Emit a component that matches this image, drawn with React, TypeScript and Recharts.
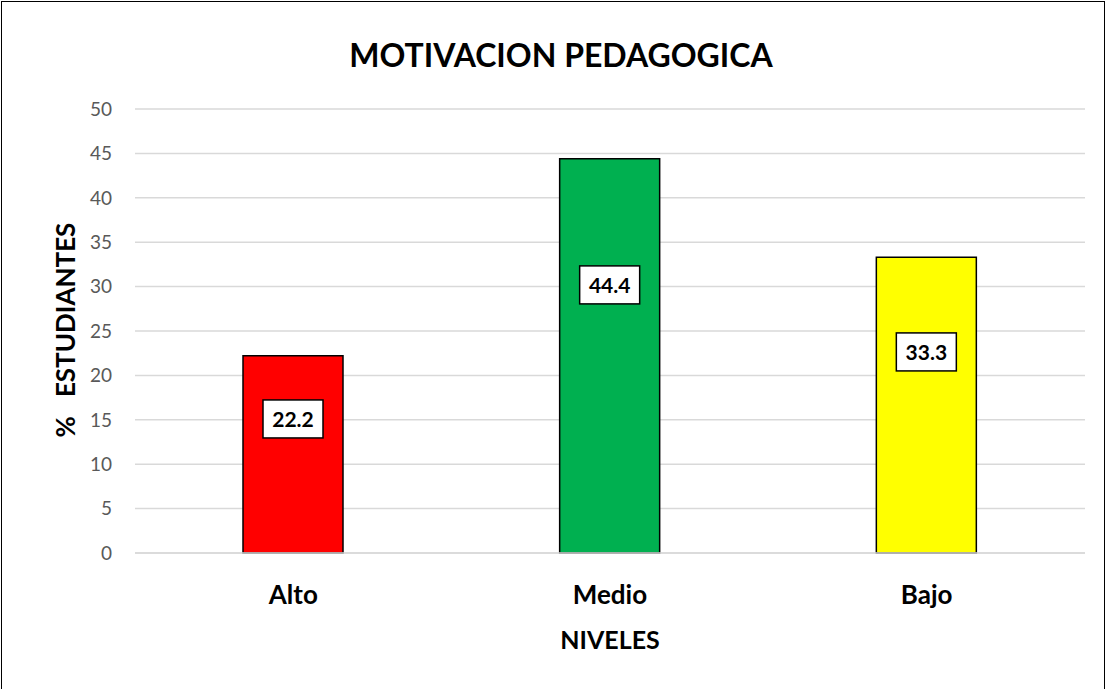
import React from "react";
import { BarChart, Bar, XAxis, YAxis, CartesianGrid, Cell, LabelList } from "recharts";

const LEVELS = ["Alto", "Medio", "Bajo"];
const PERCENTS = [22.2, 44.4, 33.3];
const COLORS = ["#ff0000", "#00b050", "#ffff00"];
const Y_TICKS = [0, 5, 10, 15, 20, 25, 30, 35, 40, 45, 50];

const data = LEVELS.map((name, i) => ({ name, value: PERCENTS[i] }));

const FONT = "Lato, 'Open Sans', sans-serif";

// boxed value label, sitting about a third of the way down the bar
function ValueBox(props: any) {
  const { x, y, width, height, value } = props;
  const cx = x + width / 2;
  const cy = y + height * 0.32;
  const w = 60;
  const h = 38;
  return (
    <g>
      <rect x={cx - w / 2} y={cy - h / 2} width={w} height={h} fill="#fff" stroke="#000" strokeWidth={1.5} />
      <text x={cx} y={cy} textAnchor="middle" dominantBaseline="central" fontFamily={FONT} fontWeight={700} fontSize={21} fill="#000">
        {value}
      </text>
    </g>
  );
}

export default function App() {
  return (
    <div style={{ position: "fixed", left: 0, top: 0, width: 1108, height: 689, background: "#fff", fontFamily: FONT }}>
      <div style={{ position: "absolute", left: 1, top: 1, width: 1104, height: 700, border: "1.5px solid #000", boxSizing: "border-box" }} />
      <div style={{ position: "absolute", left: 0, width: 1122, top: 35, textAlign: "center", fontSize: 32, fontWeight: 700, color: "#000" }}>
        MOTIVACION PEDAGOGICA
      </div>
      <div
        style={{
          position: "absolute",
          left: 65,
          top: 330,
          transform: "translate(-50%, -50%) rotate(-90deg)",
          whiteSpace: "pre",
          fontSize: 26,
          fontWeight: 700,
          color: "#000",
        }}
      >
        {"%   ESTUDIANTES"}
      </div>
      <BarChart width={1108} height={689} data={data} margin={{ top: 109, right: 23, left: 75, bottom: 36 }}>
        <CartesianGrid vertical={false} stroke="#d9d9d9" strokeWidth={1.5} />
        <XAxis
          dataKey="name"
          height={100}
          tickLine={false}
          axisLine={{ stroke: "#d9d9d9", strokeWidth: 1.5 }}
          tickSize={0}
          tickMargin={33}
          tick={{ fill: "#000", fontSize: 26, fontWeight: 700, fontFamily: FONT }}
          label={{ value: "NIVELES", position: "insideBottom", offset: 4, fill: "#000", fontSize: 25, fontWeight: 700, fontFamily: FONT }}
        />
        <YAxis
          width={60}
          domain={[0, 50]}
          ticks={Y_TICKS}
          interval={0}
          axisLine={false}
          tickLine={false}
          tickSize={0}
          tickMargin={23}
          tick={{ fill: "#595959", fontSize: 19, fontFamily: FONT }}
        />
        <Bar dataKey="value" barSize={100} stroke="#000" strokeWidth={1.5} isAnimationActive={false}>
          {data.map((d, i) => (
            <Cell key={d.name} fill={COLORS[i]} />
          ))}
          <LabelList dataKey="value" content={ValueBox} />
        </Bar>
      </BarChart>
    </div>
  );
}
